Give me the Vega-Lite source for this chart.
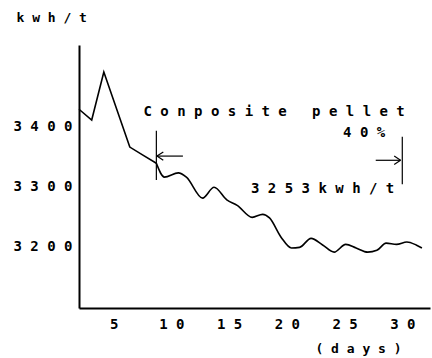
{
  "$schema": "https://vega.github.io/schema/vega-lite/v6.json",
  "width": 351,
  "height": 263,
  "autosize": "none",
  "padding": {"left": 79, "top": 45, "right": 2, "bottom": 50},
  "background": "white",
  "config": {
    "view": {"stroke": null},
    "font": "DejaVu Sans Mono",
    "axis": {"grid": false, "ticks": false, "domainColor": "black", "domainWidth": 2, "labelFont": "DejaVu Sans Mono", "labelFontWeight": "bold", "labelFontSize": 14, "labelColor": "black", "titleFont": "DejaVu Sans Mono", "titleFontWeight": "bold", "titleFontSize": 13, "titleColor": "black"}
  },
  "datasets": {
    "early": [
      {"day": 2.0, "kwh": 3428}, {"day": 3.1, "kwh": 3410}, {"day": 4.15, "kwh": 3490},
      {"day": 6.4, "kwh": 3365}, {"day": 7.5, "kwh": 3352}, {"day": 8.7, "kwh": 3338}
    ],
    "late": [
      {"day": 8.7, "kwh": 3338},
      {"day": 9.4, "kwh": 3315}, {"day": 10.6, "kwh": 3322}, {"day": 11.3, "kwh": 3315},
      {"day": 12.7, "kwh": 3280}, {"day": 13.7, "kwh": 3298}, {"day": 14.8, "kwh": 3277},
      {"day": 15.7, "kwh": 3268}, {"day": 17.0, "kwh": 3248}, {"day": 17.9, "kwh": 3253},
      {"day": 18.5, "kwh": 3247}, {"day": 19.5, "kwh": 3215}, {"day": 20.4, "kwh": 3197},
      {"day": 21.1, "kwh": 3198}, {"day": 22.1, "kwh": 3213}, {"day": 23.1, "kwh": 3202},
      {"day": 24.1, "kwh": 3190}, {"day": 25.1, "kwh": 3203}, {"day": 26.0, "kwh": 3197},
      {"day": 27.0, "kwh": 3190}, {"day": 27.8, "kwh": 3193}, {"day": 28.6, "kwh": 3205},
      {"day": 29.5, "kwh": 3203}, {"day": 30.4, "kwh": 3207}, {"day": 31.2, "kwh": 3202},
      {"day": 31.7, "kwh": 3197}
    ],
    "marks": [
      {"x": 8.7, "y": 3392, "x2": 8.7, "y2": 3310},
      {"x": 8.75, "y": 3350, "x2": 11.0, "y2": 3350},
      {"x": 8.75, "y": 3350, "x2": 9.3, "y2": 3357},
      {"x": 8.75, "y": 3350, "x2": 9.3, "y2": 3343},
      {"x": 30.0, "y": 3382, "x2": 30.0, "y2": 3303},
      {"x": 27.7, "y": 3343, "x2": 29.85, "y2": 3343},
      {"x": 29.85, "y": 3343, "x2": 29.3, "y2": 3350},
      {"x": 29.85, "y": 3343, "x2": 29.3, "y2": 3336}
    ],
    "notes": [
      {"x": 18.9, "y": 3423, "label": "C o n p o s i t e\u00a0\u00a0\u00a0p e l l e t"},
      {"x": 26.7, "y": 3388, "label": "4 0 %"},
      {"x": 23.1, "y": 3295, "label": "3 2 5 3 k w h / t"}
    ]
  },
  "layer": [
    {
      "data": {"name": "early"},
      "mark": {"type": "line", "color": "black", "strokeWidth": 1.6},
      "encoding": {
        "x": {"field": "day", "type": "quantitative", "scale": {"domain": [2, 32.4], "nice": false, "zero": false},
          "axis": {"values": [5, 10, 15, 20, 25, 30], "labelExpr": "join(split(datum.label, ''), ' ')", "labelPadding": 9, "title": "( d a y s )", "titleX": 279, "titleY": 40, "titleAlign": "center", "titleBaseline": "middle"}},
        "y": {"field": "kwh", "type": "quantitative", "scale": {"domain": [3097, 3535], "nice": false, "zero": false},
          "axis": {"values": [3200, 3300, 3400], "format": "d", "labelExpr": "join(split(datum.label, ''), ' ')", "labelPadding": 7, "title": "k w h / t", "titleAngle": 0, "titleX": -63, "titleY": -28, "titleAlign": "left", "titleBaseline": "middle"}}
      }
    },
    {
      "data": {"name": "late"},
      "mark": {"type": "line", "color": "black", "strokeWidth": 1.6, "interpolate": "monotone"},
      "encoding": {
        "x": {"field": "day", "type": "quantitative"},
        "y": {"field": "kwh", "type": "quantitative"}
      }
    },
    {
      "data": {"name": "marks"},
      "mark": {"type": "rule", "color": "black", "strokeWidth": 1.2},
      "encoding": {
        "x": {"field": "x", "type": "quantitative"},
        "y": {"field": "y", "type": "quantitative"},
        "x2": {"field": "x2"},
        "y2": {"field": "y2"}
      }
    },
    {
      "data": {"name": "notes"},
      "mark": {"type": "text", "font": "DejaVu Sans Mono", "fontWeight": "bold", "fontSize": 14, "color": "black", "align": "center", "baseline": "middle"},
      "encoding": {
        "x": {"field": "x", "type": "quantitative"},
        "y": {"field": "y", "type": "quantitative"},
        "text": {"field": "label"}
      }
    }
  ]
}
